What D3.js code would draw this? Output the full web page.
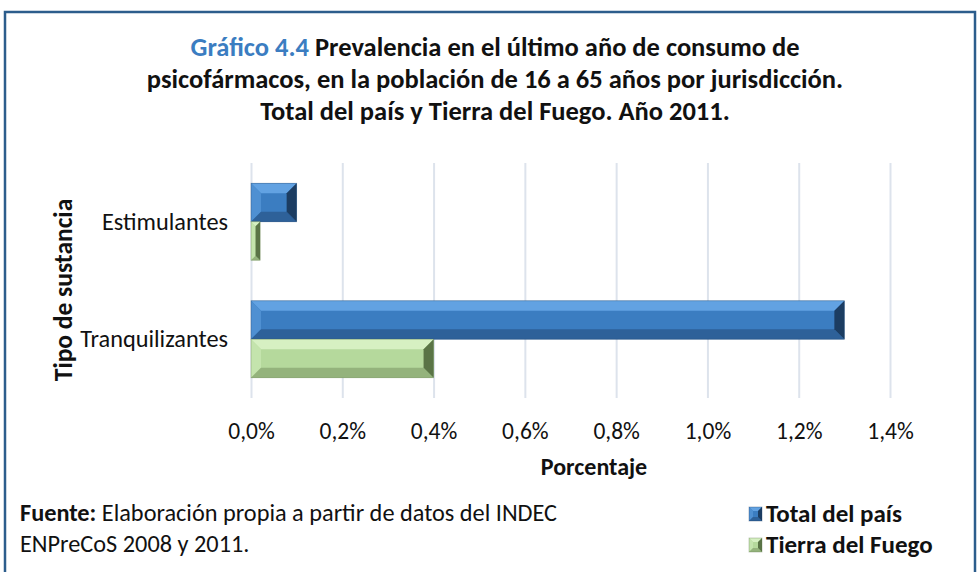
<!DOCTYPE html>
<html>
<head>
<meta charset="utf-8">
<script src="https://cdn.jsdelivr.net/npm/d3@7"></script>
<style>
  html, body { margin: 0; padding: 0; background: #fff; }
  svg { display: block; font-family: Carlito, Calibri, Lato, "Liberation Sans", sans-serif; }
</style>
</head>
<body>
<div id="chart"></div>
<script>
// Data
const categories = ["Estimulantes", "Tranquilizantes"];
const seriesNames = ["Total del país", "Tierra del Fuego"];
const totalPais = [0.1, 1.3];
const tierraFuego = [0.02, 0.4];
const xTicks = [0, 0.2, 0.4, 0.6, 0.8, 1.0, 1.2, 1.4];

const width = 977;
const height = 572;
const plot = { left: 251, right: 890, top: 163, bottom: 398 };
const font = "Carlito, Calibri, Lato, sans-serif";

// bevel palettes per series
const palettes = [
  { main: "#3b7dc1", top: "#62a2e2", left: "#4f90d2", bottom: "#2e6199", right: "#1c3d62" },
  { main: "#b5d99c", top: "#d6f0c2", left: "#c4e4ad", bottom: "#94b37c", right: "#5a7446" }
];

const svg = d3.select("#chart").append("svg")
  .attr("width", width)
  .attr("height", height);

// Frame
svg.append("rect")
  .attr("x", 5).attr("y", 12)
  .attr("width", width - 7).attr("height", 700)
  .attr("fill", "none")
  .attr("stroke", "#2c5d8c")
  .attr("stroke-width", 2.5);

// Title
const title = svg.append("text")
  .attr("text-anchor", "middle")
  .attr("font-weight", "bold")
  .attr("font-size", 26.5);
const titleLines = [
  [["Gráfico 4.4 ", "#3b7dc1"], ["Prevalencia en el último año de consumo de", "#111"]],
  [["psicofármacos, en la población de 16 a 65 años por jurisdicción.", "#111"]],
  [["Total del país y Tierra del Fuego. Año 2011.", "#111"]]
];
titleLines.forEach((parts, i) => {
  const line = title.append("tspan").attr("x", 495).attr("y", 56 + i * 32);
  parts.forEach(([t, c]) => line.append("tspan").attr("fill", c).text(t));
});

const x = d3.scaleLinear().domain([0, 1.4]).range([plot.left, plot.right]);
const y = d3.scaleBand().domain(categories)
  .range([plot.top, plot.bottom])
  .paddingInner(0.345).paddingOuter(0.1725);
const ySeries = d3.scaleBand().domain(seriesNames).range([0, y.bandwidth()]);

// Gridlines
const grid = svg.append("g")
  .attr("transform", `translate(0,${plot.bottom})`)
  .call(d3.axisBottom(x).tickValues(xTicks).tickSize(-(plot.bottom - plot.top)).tickFormat(""));
grid.select(".domain").remove();
grid.selectAll("line").attr("stroke", "#dde3ec").attr("stroke-width", 2);

// X tick labels
const fmt = (d) => d3.format(".1f")(d).replace(".", ",") + "%";
const xAxis = svg.append("g")
  .attr("transform", `translate(0,${plot.bottom})`)
  .call(d3.axisBottom(x).tickValues(xTicks).tickSize(0).tickFormat(fmt));
xAxis.select(".domain").remove();
xAxis.selectAll("text")
  .attr("y", 41).attr("dy", 0)
  .attr("font-family", font)
  .attr("font-size", 23.5)
  .attr("fill", "#111");

// Category labels
const yAxis = svg.append("g")
  .attr("transform", `translate(${plot.left},0)`)
  .call(d3.axisLeft(y).tickSize(0).tickPadding(23));
yAxis.select(".domain").remove();
yAxis.selectAll("text")
  .attr("font-family", font)
  .attr("font-size", 24.3)
  .attr("fill", "#111");

// Axis titles
svg.append("text")
  .attr("x", 594).attr("y", 475)
  .attr("text-anchor", "middle")
  .attr("font-weight", "bold")
  .attr("font-size", 24)
  .attr("fill", "#111")
  .text("Porcentaje");

svg.append("text")
  .attr("transform", "translate(72,290) rotate(-90)")
  .attr("text-anchor", "middle")
  .attr("font-weight", "bold")
  .attr("font-size", 25.5)
  .attr("fill", "#111")
  .text("Tipo de sustancia");

// Bevelled bar helper
function bevelBar(g, x0, y0, w, h, pal, size) {
  const b = Math.min(size, w / 2, h / 2);
  const x1 = x0 + w, y1 = y0 + h;
  g.append("rect").attr("x", x0).attr("y", y0).attr("width", w).attr("height", h).attr("fill", pal.main);
  const faces = [
    [[x0, y0], [x1, y0], [x1 - b, y0 + b], [x0 + b, y0 + b], pal.top],
    [[x0, y0], [x0 + b, y0 + b], [x0 + b, y1 - b], [x0, y1], pal.left],
    [[x0, y1], [x0 + b, y1 - b], [x1 - b, y1 - b], [x1, y1], pal.bottom],
    [[x1, y0], [x1, y1], [x1 - b, y1 - b], [x1 - b, y0 + b], pal.right]
  ];
  faces.forEach((f) => {
    g.append("polygon")
      .attr("points", f.slice(0, 4).map((p) => p.join(",")).join(" "))
      .attr("fill", f[4]);
  });
  g.append("rect").attr("x", x0).attr("y", y0).attr("width", w).attr("height", h)
    .attr("fill", "none").attr("stroke", pal.right).attr("stroke-opacity", 0.4).attr("stroke-width", 0.8);
}

const seriesValues = [totalPais, tierraFuego];
const bars = svg.append("g");
seriesValues.forEach((vals, si) => {
  vals.forEach((v, ci) => {
    const y0 = y(categories[ci]) + ySeries(seriesNames[si]);
    bevelBar(bars.append("g"), x(0), y0, x(v) - x(0), ySeries.bandwidth(), palettes[si], 10);
  });
});

// Source note
const src = svg.append("g").attr("font-size", 24.3).attr("fill", "#111");
const l1 = src.append("text").attr("x", 20).attr("y", 521);
l1.append("tspan").attr("font-weight", "bold").text("Fuente:");
l1.append("tspan").text(" Elaboración propia a partir de datos del INDEC");
src.append("text").attr("x", 20).attr("y", 552).text("ENPreCoS 2008 y 2011.");

// Legend
const legend = svg.append("g");
seriesNames.forEach((name, i) => {
  const gy = 507 + i * 31;
  bevelBar(legend.append("g"), 749, gy, 13, 14, palettes[i], 4);
  legend.append("text")
    .attr("x", 766).attr("y", gy + 15)
    .attr("font-weight", "bold")
    .attr("font-size", 25)
    .attr("fill", "#111")
    .text(name);
});
</script>
</body>
</html>
